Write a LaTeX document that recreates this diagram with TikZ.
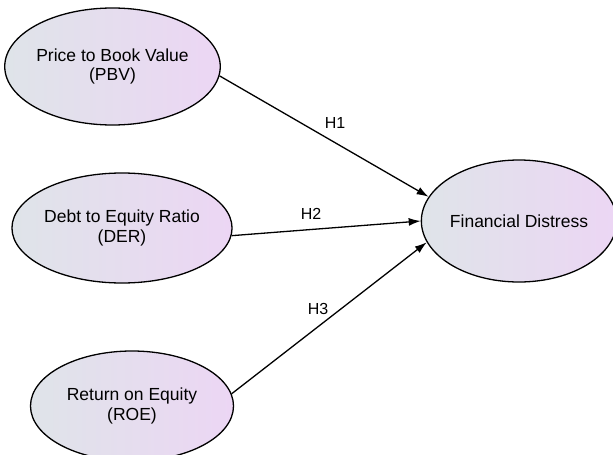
\documentclass[tikz,border=0pt]{standalone}
\usepackage{fontspec}
\setmainfont{Liberation Sans}
\usetikzlibrary{shapes.geometric,arrows.meta}

\begin{document}
\begin{tikzpicture}
        [x=1pt,y=-1pt,line width=1.3pt]
            \tikzstyle{construct}=[ellipse, draw, line width=1.3pt,
        left color={rgb,255:red,223;green,228;blue,233},
        right color={rgb,255:red,236;green,214;blue,244},
        inner sep=0pt, align=center,
        font=\fontsize{17.5}{19.5}\selectfont]
            \tikzstyle{hyp}=[font=\fontsize{16}{18}\selectfont, inner sep=0pt]
        \useasboundingbox (0,0) rectangle (613,455);
        %-----constructs
         \node[construct, minimum width=201pt, minimum height=117pt]  (PBV) at (112.5,66.5) {Price to Book Value\\(PBV)};
         \node[construct, minimum width=200pt, minimum height=110pt]  (DER) at (122,228) {Debt to Equity Ratio\\(DER)};
         \node[construct, minimum width=203pt, minimum height=110pt]  (ROE) at (132,406) {Return on Equity\\(ROE)};
         \node[construct, minimum width=188pt, minimum height=122pt]  (FD) at (519,221) {Financial Distress};

        %-----hypotheses
         \node[hyp]  (H1) at (335,123) {H1};
         \node[hyp]  (H2) at (311,214) {H2};
         \node[hyp]  (H3) at (318,309) {H3};

         \foreach \from/\a/\b in {PBV/-5/165, DER/-4/180, ROE/7/193}
         \draw[-{Latex[length=12pt,width=8pt]}] (\from.\a) -- (FD.\b);

        \end{tikzpicture}
\end{document}
